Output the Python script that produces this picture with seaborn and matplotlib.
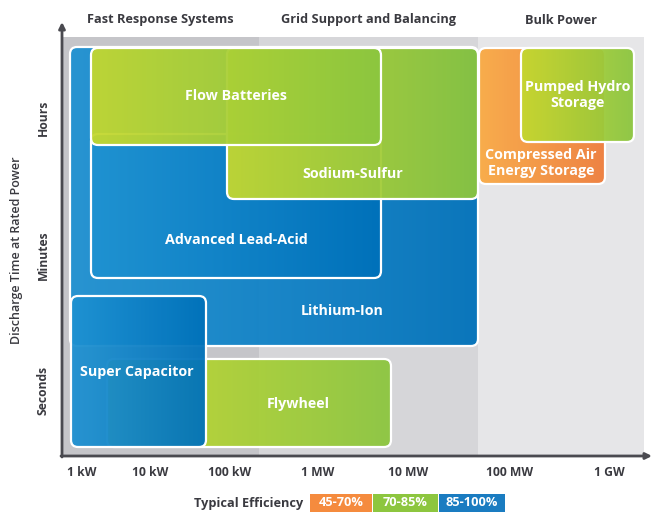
import matplotlib
matplotlib.use('Agg')
import matplotlib.pyplot as plt
import numpy as np
import seaborn as sns
from matplotlib.colors import LinearSegmentedColormap
from matplotlib.patches import FancyBboxPatch, Rectangle

# chart units: roughly 1 unit per pixel, origin at the corner of the two axes
systems = ['Fast Response Systems', 'Grid Support and Balancing', 'Bulk Power']
system_left = [0, 197, 416]
system_right = [197, 416, 582]
system_top = 419

power_labels = ['1 kW', '10 kW', '100 kW', '1 MW', '10 MW', '100 MW', '1 GW']
power_pos = [20, 88, 168, 256, 346, 448, 547]
time_labels = ['Seconds', 'Minutes', 'Hours']
time_pos = [66, 201, 338]

techs = ['Lithium-Ion', 'Advanced Lead-Acid', 'Flywheel', 'Super Capacitor',
         'Sodium-Sulfur', 'Flow Batteries', 'Compressed Air\nEnergy Storage',
         'Pumped Hydro\nStorage']
tech_x0 = [8, 29, 45, 9, 165, 29, 417, 459]
tech_x1 = [416, 319, 329, 144, 416, 319, 543, 572]
tech_y0 = [110, 178, 9, 9, 257, 311, 272, 314]
tech_y1 = [409, 322, 97, 160, 408, 408, 408, 408]
tech_eff = ['85-100%', '85-100%', '70-85%', '85-100%', '70-85%', '70-85%', '45-70%', '70-85%']

efficiency = ['45-70%', '70-85%', '85-100%']

# layout
label_x = [280, 174, 236, 75, 291, 174, 479, 516]
label_y = [145, 216, 52, 84, 282, 360, 293, 361]
eff_colors = {'45-70%': '#f58b3e', '70-85%': '#8dc63f', '85-100%': '#1a7cc1'}
eff_cmaps = {
    '45-70%': LinearSegmentedColormap.from_list('o', ['#f9aa44', '#ef7d3b']),
    '70-85%': LinearSegmentedColormap.from_list('g', ['#c5d82f', '#8cc63f']),
    '85-100%': LinearSegmentedColormap.from_list('b', ['#1f92d2', '#0071ba']),
}
band_colors = ['#c5c5c9', '#d6d6d9', '#e6e6e8']
text_dark = '#3a3a40'
axis_color = '#4a4a50'

sns.set_theme(style='white')
plt.rcParams['font.family'] = ['Open Sans', 'DejaVu Sans']

fig = plt.figure(figsize=(6.72, 5.28), dpi=100)
ax = fig.add_axes([62 / 672, 72 / 528, 590 / 672, 434 / 528])

for left, right, col in zip(system_left, system_right, band_colors):
    ax.add_patch(Rectangle((left, 0), right - left, system_top, fc=col, ec='none', zorder=0))

grad = np.linspace(0, 1, 256).reshape(1, -1)
for i, name in enumerate(techs):
    x0, x1, y0, y1 = tech_x0[i], tech_x1[i], tech_y0[i], tech_y1[i]
    box = FancyBboxPatch((x0, y0), x1 - x0, y1 - y0,
                         boxstyle='round,pad=0,rounding_size=7',
                         fc='none', ec='white', lw=1.6, zorder=2 + i + 0.5)
    ax.add_patch(box)
    im = ax.imshow(grad, extent=[x0, x1, y0, y1], cmap=eff_cmaps[tech_eff[i]],
                   aspect='auto', origin='lower', alpha=0.95, zorder=2 + i,
                   interpolation='bilinear')
    im.set_clip_path(box)
    ax.text(label_x[i], label_y[i], name, color='white', fontsize=10.3, fontweight='bold',
            ha='center', va='center', linespacing=1.2, zorder=20)

ax.set_xlim(0, 590)
ax.set_ylim(0, 434)
sns.despine(ax=ax, left=True, bottom=True)
ax.grid(False)

arrow = dict(arrowstyle='-|>', color=axis_color, lw=2, mutation_scale=9, shrinkA=0, shrinkB=0)
ax.annotate('', xy=(0, 434), xytext=(0, -1), arrowprops=arrow, annotation_clip=False, zorder=30)
ax.annotate('', xy=(590, 0), xytext=(-1, 0), arrowprops=arrow, annotation_clip=False, zorder=30)

ax.set_xticks(power_pos, power_labels, fontsize=8.7, fontweight='bold', color=text_dark)
ax.set_yticks(time_pos, time_labels, fontsize=8.7, fontweight='bold', color=text_dark,
              rotation=90, va='center')
ax.tick_params(axis='x', length=0, pad=7)
ax.tick_params(axis='y', length=0, pad=9)

fig.text(17 / 672, 1 - 250 / 528, 'Discharge Time at Rated Power', rotation=90,
         ha='center', va='center', fontsize=9, fontweight='semibold', color=text_dark)

for name, left, right in zip(systems, system_left, system_right):
    cx = (62 + (left + right) / 2) / 672
    fig.text(cx, 1 - 20 / 528, name, ha='center', va='center', fontsize=9.2,
             fontweight='bold', color=text_dark)

fig.text(303 / 672, 1 - 503 / 528, 'Typical Efficiency', ha='right', va='center',
         fontsize=9.2, fontweight='bold', color=text_dark)
lax = fig.add_axes([310 / 672, 16 / 528, 195 / 672, 18 / 528])
widths = [62, 65, 66]
lefts = [0, 63, 129]
lax.barh([0] * 3, widths, left=lefts, height=1,
         color=[eff_colors[e] for e in efficiency], edgecolor='none')
for e, l, w in zip(efficiency, lefts, widths):
    lax.text(l + w / 2, 0, e, ha='center', va='center', color='white',
             fontsize=9.2, fontweight='bold')
lax.set_xlim(0, 195)
lax.set_ylim(-0.5, 0.5)
lax.axis('off')

fig.savefig('out.png', dpi=100)
